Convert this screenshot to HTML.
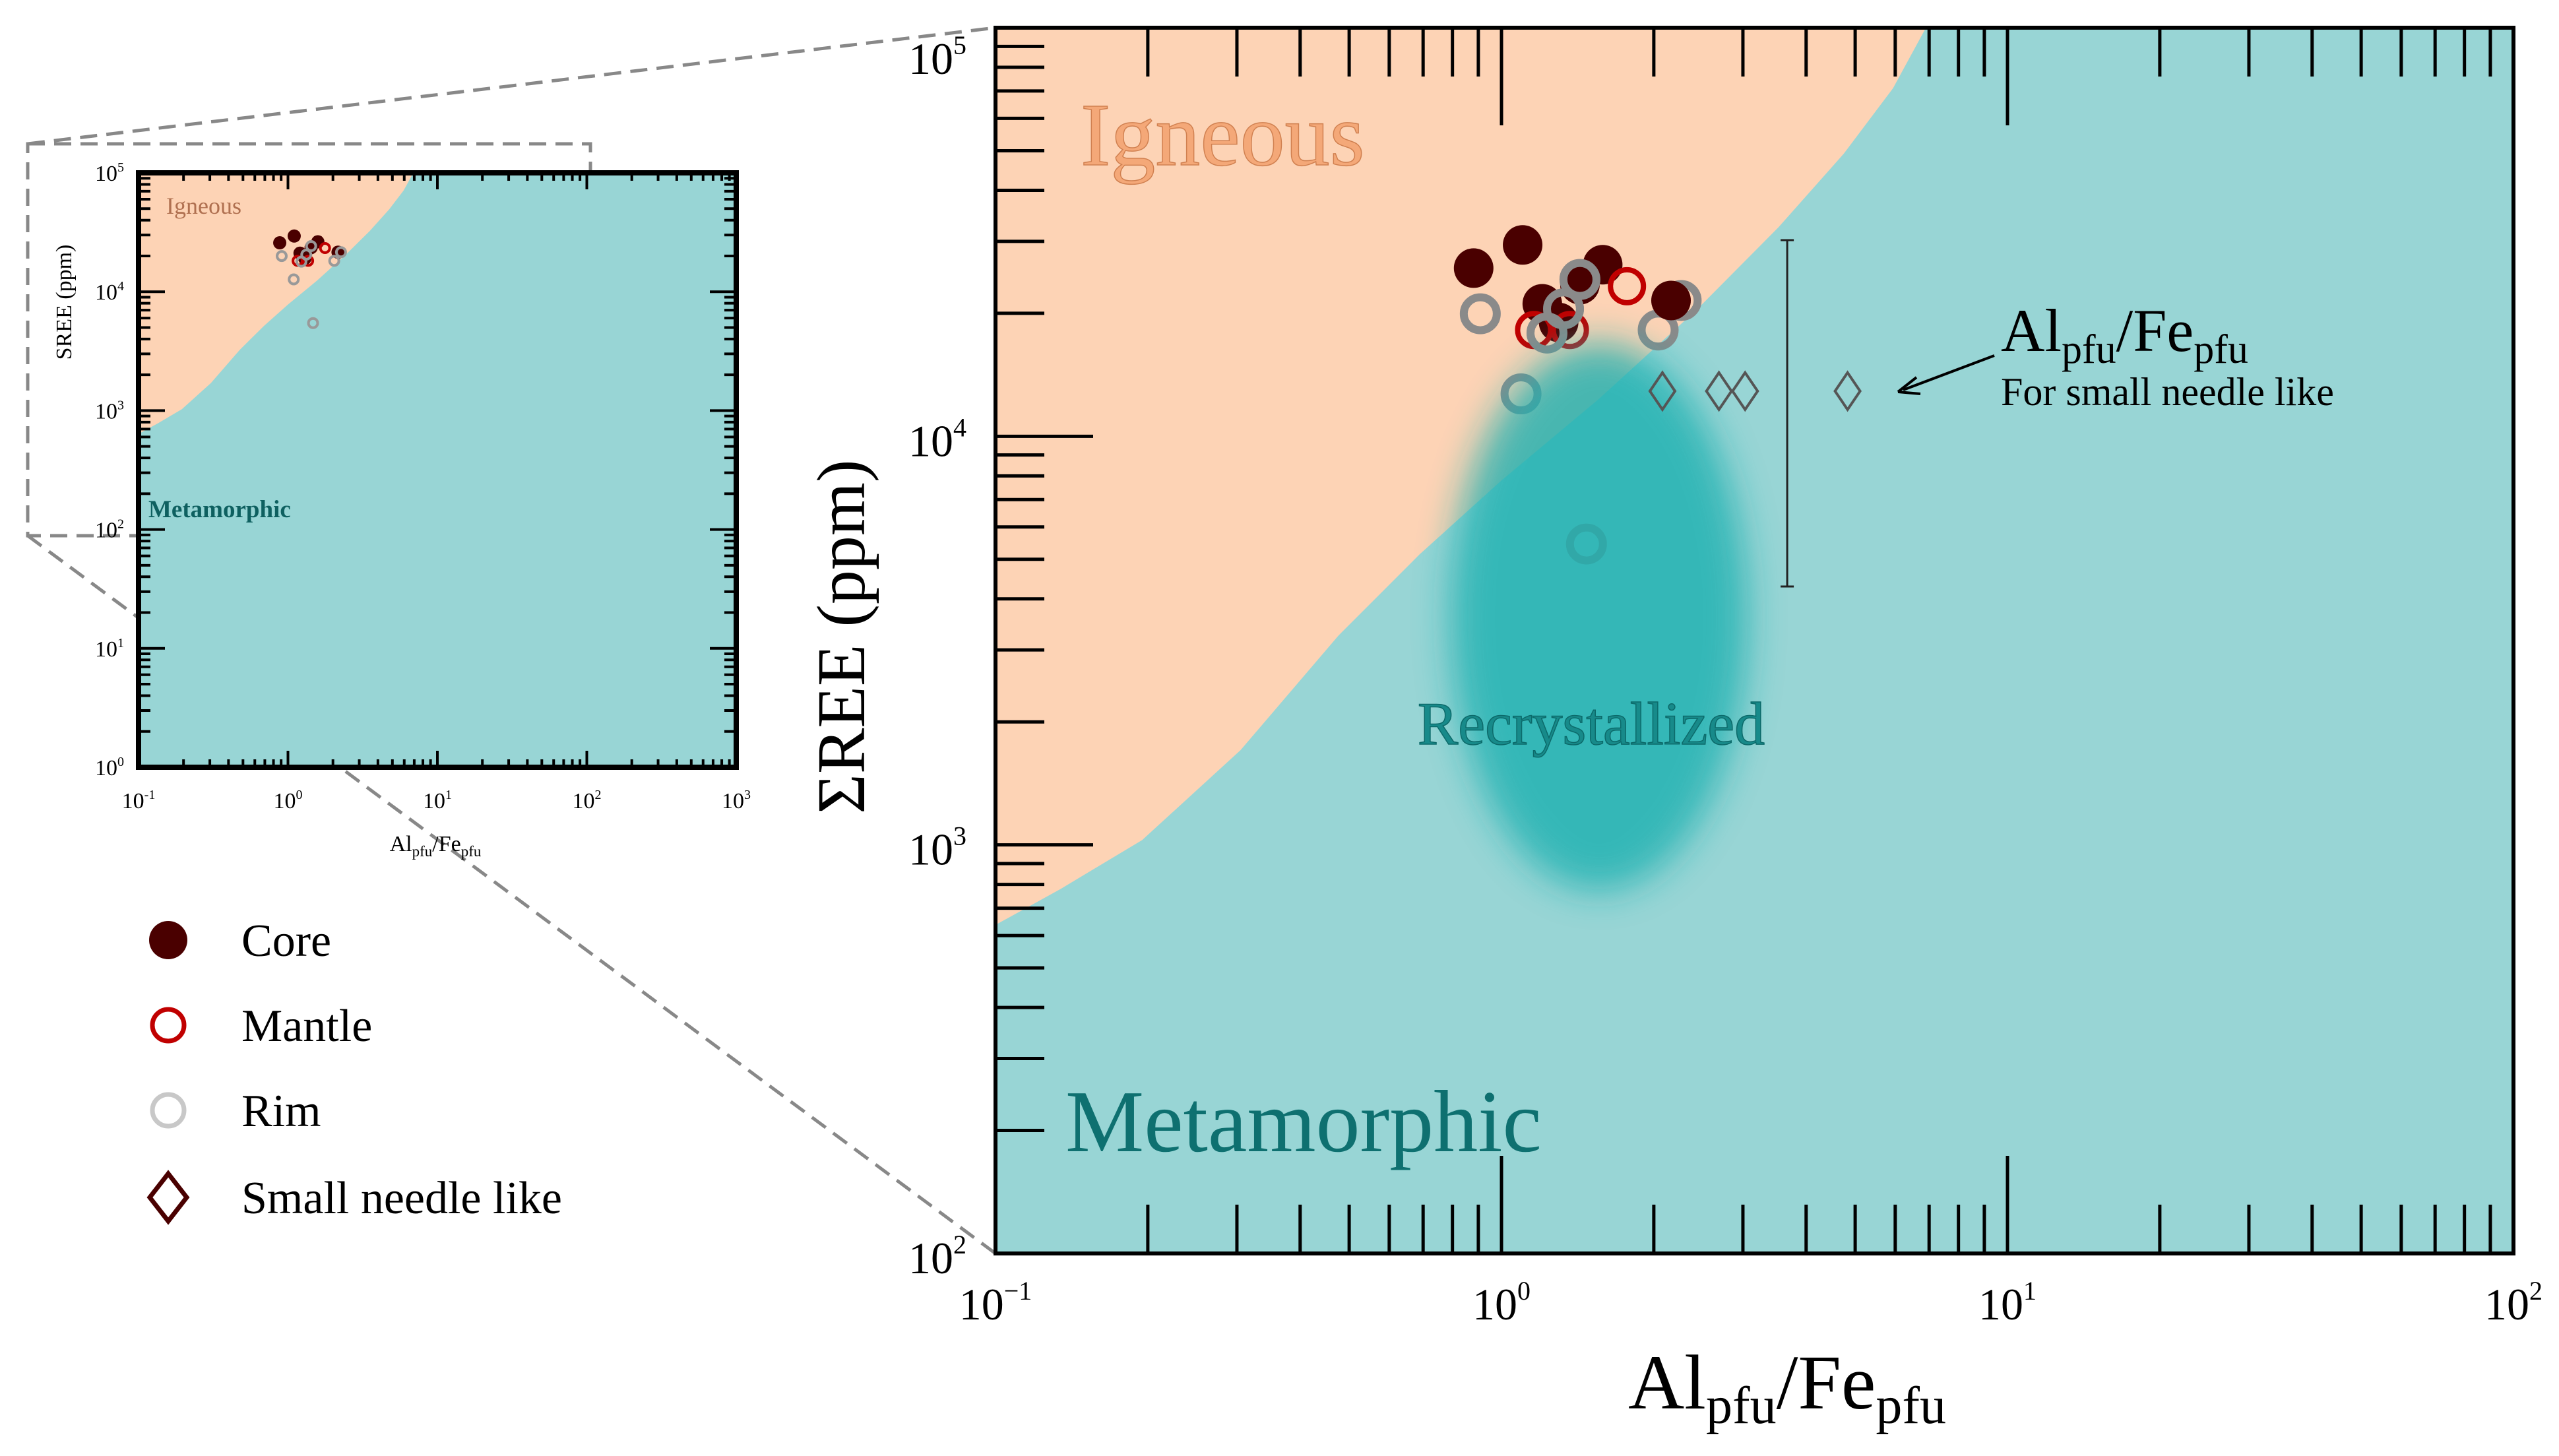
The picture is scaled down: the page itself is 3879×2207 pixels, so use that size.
<!DOCTYPE html>
<html><head><meta charset="utf-8"><style>
html,body{margin:0;padding:0;background:#fff;}
svg{display:block;font-family:"Liberation Serif",serif;}
</style></head><body>
<svg id="c" width="3879" height="2207" viewBox="0 0 3879 2207" xmlns="http://www.w3.org/2000/svg">
<defs>
<filter id="blur" x="-50%" y="-50%" width="200%" height="200%"><feGaussianBlur stdDeviation="28"/></filter>
<clipPath id="mainClip"><rect x="1509" y="42" width="2301" height="1858"/></clipPath>
<clipPath id="insetClip"><rect x="210" y="262" width="906" height="901"/></clipPath>
</defs>
<g id="root"></g>
</svg>
<script>
// ---- data ----
const boundaryX = [0.1,0.1345,0.195,0.305,0.476,0.69,1.0,1.56,2.44,3.53,4.75,5.94,6.9];
const boundaryY = [637,780,1028,1706,3250,5150,7800,12360,20500,32500,49200,71100,100000];
const coreX = [0.881,1.101,1.204,1.297,1.429,1.585,2.163];
const coreY = [25800,29400,21100,19000,23500,26300,21500];
const mantleX = [1.16,1.365,1.77];
const mantleY = [18200,18200,23300];
const rimX = [0.908,1.23,1.326,1.429,2.04,2.265,1.093,1.472];
const rimY = [19950,17900,20500,24200,18200,21500,12700,5450];
const needleX = [2.08,2.69,3.03,4.83];
const needleY = [12900,12900,12900,12900];
const errX = 3.67, errLow = 4290, errHigh = 30200;

const NS="http://www.w3.org/2000/svg";
const root=document.getElementById('root');
function el(tag,attrs,parent){const e=document.createElementNS(NS,tag);for(const k in attrs)e.setAttribute(k,attrs[k]);(parent||root).appendChild(e);return e;}

function makeAxes(L,T,W,H,x0,x1,y0,y1){
  return {
    sx:v=>L+(Math.log10(v)-x0)/(x1-x0)*W,
    sy:v=>T+H-(Math.log10(v)-y0)/(y1-y0)*H
  };
}

// ---- dashed zoom lines ----
const dz=el('g',{});


el('rect',{x:42,y:218,width:853,height:594,fill:'none',stroke:'#888','stroke-width':5,'stroke-dasharray':'26 14'},dz);
el('line',{x1:42,y1:218,x2:1509,y2:42,stroke:'#888','stroke-width':5,'stroke-dasharray':'26 14'},dz);
el('line',{x1:42,y1:812,x2:1509,y2:1900,stroke:'#888','stroke-width':5,'stroke-dasharray':'26 14'},dz);

function drawPlot(opt){
  const {L,T,W,H,x0,x1,y0,y1,clip,name}=opt;
  const ax=makeAxes(L,T,W,H,x0,x1,y0,y1);
  const g=el('g',{});
  
  
  const cg=el('g',{'clip-path':'url(#'+clip+')'},g);
  el('rect',{x:L,y:T,width:W,height:H,fill:'#98d5d5'},cg);
  let d='M'+L+','+T+' L'+ax.sx(boundaryX[0])+','+ax.sy(boundaryY[0]);
  for(let i=1;i<boundaryX.length;i++)d+=' L'+ax.sx(boundaryX[i]).toFixed(1)+','+ax.sy(boundaryY[i]).toFixed(1);
  d+=' L'+ax.sx(boundaryX[boundaryX.length-1]*1.5)+','+(T-50)+' L'+L+','+(T-50)+'Z';
  const ig=el('path',{d:d,fill:'#fdd3b5'},cg);
  
  
  return {ax,g,cg};
}

// ---- main plot ----
const M={L:1509,T:42,W:2301,H:1858,x0:-1,x1:2,y0:2,y1:5,clip:'mainClip',name:'main-plot'};
const mp=drawPlot(M);
const A=mp.ax;
const rs=30;
for(let i=0;i<rimX.length;i++){const c=el('circle',{cx:A.sx(rimX[i]),cy:A.sy(rimY[i]),r:rs-5,fill:'none',stroke:'#8a8a8a','stroke-width':12},mp.cg);

}
for(let i=0;i<coreX.length;i++){const c=el('circle',{cx:A.sx(coreX[i]),cy:A.sy(coreY[i]),r:rs,fill:'#4a0000'},mp.cg);

}
for(let i=0;i<mantleX.length;i++){const c=el('circle',{cx:A.sx(mantleX[i]),cy:A.sy(mantleY[i]),r:rs-5,fill:'none',stroke:'#c00000','stroke-width':8},mp.cg);

}
for(let i=1;i<4;i++){const c=el('circle',{cx:A.sx(rimX[i]),cy:A.sy(rimY[i]),r:rs-5,fill:'none',stroke:'#8a8a8a','stroke-width':12},mp.cg);

}
// recrystallized ellipse
const ell=el('ellipse',{cx:2424,cy:935,rx:225,ry:415,fill:'#1fb0b0',opacity:0.8,filter:'url(#blur)'},mp.cg);


for(let i=0;i<needleX.length;i++){const x=A.sx(needleX[i]),y=A.sy(needleY[i]);
const p=el('path',{d:`M${x},${y-28} L${x+19},${y} L${x},${y+28} L${x-19},${y}Z`,fill:'none',stroke:'#555','stroke-width':4},mp.cg);

}
// error bar
const eb=el('g',{},mp.cg);


const ex=A.sx(errX);
el('line',{x1:ex,y1:A.sy(errHigh),x2:ex,y2:A.sy(errLow),stroke:'#222','stroke-width':3},eb);
el('line',{x1:ex-10,y1:A.sy(errHigh),x2:ex+10,y2:A.sy(errHigh),stroke:'#222','stroke-width':3},eb);
el('line',{x1:ex-10,y1:A.sy(errLow),x2:ex+10,y2:A.sy(errLow),stroke:'#222','stroke-width':3},eb);
// ticks main
const tg=el('g',{},mp.g);


for(let e=-1;e<2;e++)for(let m=1;m<10;m++){const v=m*Math.pow(10,e);const x=A.sx(v);const len=(m===1&&e>=0)?148:74;
 if(m===1&&e===-1)continue;
 el('line',{x1:x,y1:1900,x2:x,y2:1900-len,stroke:'#000','stroke-width':5},tg);
 el('line',{x1:x,y1:42,x2:x,y2:42+len,stroke:'#000','stroke-width':5},tg);}
for(let e=2;e<5;e++)for(let m=1;m<10;m++){const v=m*Math.pow(10,e);const y=A.sy(v);const len=(m===1)?148:74;
 el('line',{x1:1509,y1:y,x2:1509+len,y2:y,stroke:'#000','stroke-width':5},tg);}
el('rect',{x:1509,y:42,width:2301,height:1858,fill:'none',stroke:'#000','stroke-width':6},mp.g);
// tick labels
const xTickExp=['-1','0','1','2'];
xTickExp.forEach((s,i)=>{const t=el('text',{x:A.sx(Math.pow(10,i-1)),y:2000,'font-size':68,'text-anchor':'middle'});t.innerHTML='10<tspan dy="-30" font-size="40">'+s.replace('-','−')+'</tspan>';

});
const yTickExp=['2','3','4','5'];
yTickExp.forEach((s,i)=>{const off=(i===3)?70:30;const t=el('text',{x:1465,y:A.sy(Math.pow(10,i+2))+off,'font-size':68,'text-anchor':'end'});t.innerHTML='10<tspan dy="-30" font-size="40">'+s+'</tspan>';

});
let t;
t=el('text',{x:2709,y:2135,'font-size':118,'text-anchor':'middle'});t.innerHTML='Al<tspan dy="22" font-size="80">pfu</tspan><tspan dy="-22">/Fe</tspan><tspan dy="22" font-size="80">pfu</tspan>';


t=el('text',{x:1310,y:965,'font-size':104,'text-anchor':'middle',transform:'rotate(-90 1310 965)'});t.textContent='ΣREE (ppm)';


t=el('text',{x:1638,y:250,'font-size':136,fill:'#f4a878',stroke:'#d08050','stroke-width':1.5});t.textContent='Igneous';


t=el('text',{x:1615,y:1745,'font-size':134,fill:'#0e7070'});t.textContent='Metamorphic';


t=el('text',{x:2412,y:1128,'font-size':92,fill:'#178a8a','text-anchor':'middle',stroke:'#0c6a6a','stroke-width':1.5});t.textContent='Recrystallized';


t=el('text',{x:3033,y:532,'font-size':92});t.innerHTML='Al<tspan dy="18" font-size="62">pfu</tspan><tspan dy="-18">/Fe</tspan><tspan dy="18" font-size="62">pfu</tspan>';


t=el('text',{x:3033,y:614,'font-size':60});t.textContent='For small needle like';


const ar=el('g',{});


el('line',{x1:3023,y1:539,x2:2885,y2:591,stroke:'#000','stroke-width':4},ar);
el('path',{d:'M2877,594 L2905,572 M2877,594 L2911,597',stroke:'#000','stroke-width':4,fill:'none'},ar);

// ---- inset ----
const I={L:210,T:262,W:906,H:901,x0:-1,x1:3,y0:0,y1:5,clip:'insetClip',name:'inset-plot'};
const ip=drawPlot(I);
const B=ip.ax;
for(let i=0;i<coreX.length;i++){const c=el('circle',{cx:B.sx(coreX[i]),cy:B.sy(coreY[i]),r:10,fill:'#4a0000'},ip.cg);

}
for(let i=0;i<mantleX.length;i++){const c=el('circle',{cx:B.sx(mantleX[i]),cy:B.sy(mantleY[i]),r:7,fill:'none',stroke:'#c00000','stroke-width':4},ip.cg);

}
for(let i=0;i<rimX.length;i++){const c=el('circle',{cx:B.sx(rimX[i]),cy:B.sy(rimY[i]),r:7,fill:'none',stroke:'#999','stroke-width':4},ip.cg);

}
const itg=el('g',{},ip.g);


for(let e=-1;e<3;e++)for(let m=1;m<10;m++){const x=B.sx(m*Math.pow(10,e));const len=m===1?25:12;
 el('line',{x1:x,y1:1163,x2:x,y2:1163-len,stroke:'#000','stroke-width':4},itg);
 el('line',{x1:x,y1:262,x2:x,y2:262+len,stroke:'#000','stroke-width':4},itg);}
for(let e=0;e<5;e++)for(let m=1;m<10;m++){const y=B.sy(m*Math.pow(10,e));const len=m===1?40:18;
 el('line',{x1:210,y1:y,x2:210+len,y2:y,stroke:'#000','stroke-width':4},itg);
 el('line',{x1:1116,y1:y,x2:1116-len,y2:y,stroke:'#000','stroke-width':4},itg);}
el('rect',{x:210,y:262,width:906,height:901,fill:'none',stroke:'#000','stroke-width':8},ip.g);
['-1','0','1','2','3'].forEach((s,i)=>{const t=el('text',{x:B.sx(Math.pow(10,i-1)),y:1225,'font-size':34,'text-anchor':'middle'});t.innerHTML='10<tspan dy="-14" font-size="20">'+s+'</tspan>';

});
['0','1','2','3','4','5'].forEach((s,i)=>{const t=el('text',{x:188,y:B.sy(Math.pow(10,i))+12,'font-size':34,'text-anchor':'end'});t.innerHTML='10<tspan dy="-14" font-size="20">'+s+'</tspan>';

});
t=el('text',{x:660,y:1290,'font-size':34,'text-anchor':'middle'});t.innerHTML='Al<tspan dy="8" font-size="23">pfu</tspan><tspan dy="-8">/Fe</tspan><tspan dy="8" font-size="23">pfu</tspan>';


t=el('text',{x:108,y:458,'font-size':34,'text-anchor':'middle',transform:'rotate(-90 108 458)'});t.textContent='SREE (ppm)';


t=el('text',{x:252,y:324,'font-size':36,fill:'#b07050'});t.textContent='Igneous';


t=el('text',{x:225,y:784,'font-size':37,fill:'#0e6060','font-weight':'bold'});t.textContent='Metamorphic';



// ---- legend ----
const lg=el('g',{});


const legNames=['Core','Mantle','Rim','Small needle like'];
const legY=[1425,1554,1683,1815];
el('circle',{cx:255,cy:legY[0],r:29,fill:'#4a0000'},lg);
el('circle',{cx:255,cy:legY[1],r:24,fill:'none',stroke:'#c00000','stroke-width':7},lg);
el('circle',{cx:255,cy:legY[2],r:24,fill:'none',stroke:'#c8c8c8','stroke-width':7},lg);
el('path',{d:`M255,${legY[3]-36} L283,${legY[3]} L255,${legY[3]+36} L227,${legY[3]}Z`,fill:'none',stroke:'#4a0000','stroke-width':7},lg);
legNames.forEach((n,i)=>{const t=el('text',{x:366,y:legY[i]+24,'font-size':70},lg);t.textContent=n;

});
</script>
</body></html>
